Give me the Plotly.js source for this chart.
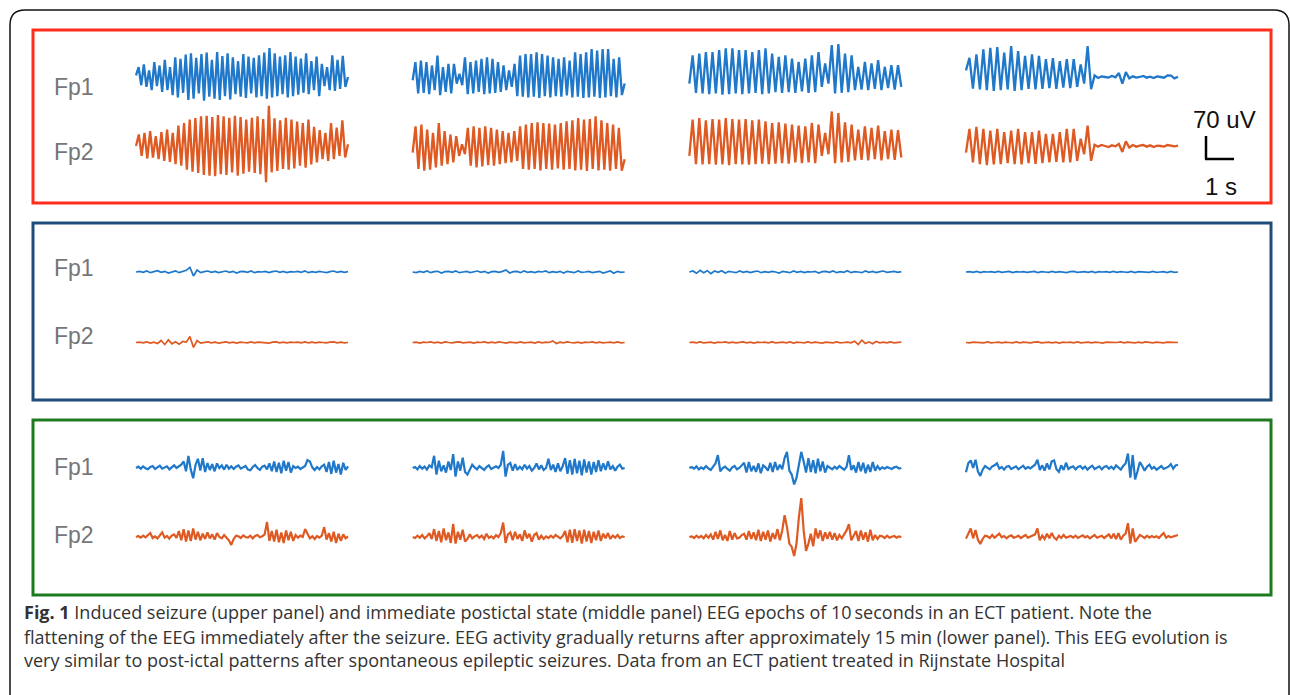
<!DOCTYPE html>
<html><head><meta charset="utf-8">
<script src="https://cdn.plot.ly/plotly-3.0.1.min.js"></script>
<style>html,body{margin:0;padding:0;background:#fff;overflow:hidden}#chart{width:1290px;height:695px}</style>
</head><body><div id="chart"></div>
<script>
// ---------------- DATA (uV) ----------------
const channels = ['Fp1', 'Fp2'];
const epochLengthS = 10;

// Upper panel: induced seizure
const seizureFp1E1 = [5,30,-25,38,-30,20,-40,45,-28,35,-45,52,-40,30,-55,60,-62,55,-48,68,-70,72,-66,58,-50,70,-72,74,-60,52,-66,76,-70,64,-58,72,-68,60,-52,48,-60,70,-64,62,-50,58,-62,66,-58,74,-66,88,-62,72,-58,62,-52,66,-62,76,-58,62,-54,56,-48,72,-52,48,-40,62,-58,40,-28,30,-40,66,-42,52,-36,64,-30,0];
const seizureFp1E2 = [-10,45,-50,50,-48,45,-52,35,-40,65,-55,30,-45,40,-50,40,-20,10,-25,60,-52,45,-50,50,-45,55,-52,60,-50,55,-48,45,-45,35,-40,20,-30,40,-58,65,-60,70,-62,70,-60,75,-64,70,-58,65,-62,60,-58,55,-60,60,-56,50,-62,75,-60,70,-64,75,-62,85,-60,80,-64,85,-62,85,-58,55,-62,60,-55,-20];
const seizureFp1E3 = [-20,66,-48,71,-50,76,-52,76,-50,82,-54,87,-52,87,-50,82,-52,82,-50,76,-48,82,-52,87,-50,71,-46,61,-48,66,-46,56,-48,46,-44,56,-48,66,-46,76,-30,41,-20,97,-50,100,-48,71,-46,66,-40,31,-38,46,-40,41,-36,51,-40,31,-34,36,-38,36,-30];
const seizureFp1E4 = [20,58,-35,69,-38,84,-40,89,-42,91,-40,74,-38,94,-42,79,-40,64,-36,69,-38,64,-36,54,-34,57,-36,48,-32,54,-34,54,-30,38,-20,94,-37,5,-3,2,0,-2,3,-1,12,-20,15,-4,2,-2,0,3,-2,1,-3,2,0,-2,5,4,-4,1];
const seizureFp2E1 = [0,35,-30,40,-38,45,-35,30,-40,42,-45,50,-48,40,-55,62,-60,70,-72,80,-78,85,-82,90,-88,92,-90,88,-92,94,-86,90,-88,86,-80,92,-90,88,-84,80,-78,86,-82,90,-86,82,-110,122,-80,84,-76,78,-70,86,-72,80,-68,74,-60,70,-66,80,-56,58,-50,48,-40,40,-45,70,-40,56,-30,78,-35,5];
const seizureFp2E2 = [-20,60,-70,65,-75,50,-72,40,-65,70,-60,45,-55,35,-50,30,-30,5,-25,55,-60,60,-65,55,-62,60,-58,55,-60,50,-55,45,-52,40,-50,45,-45,60,-70,65,-72,70,-70,72,-74,70,-70,68,-72,65,-68,70,-72,75,-70,78,-74,85,-72,80,-76,82,-70,90,-74,78,-72,70,-75,65,-70,55,-75,-40];
const seizureFp2E3 = [-30,80,-55,85,-56,78,-55,82,-57,80,-56,85,-58,82,-55,80,-56,82,-57,78,-55,80,-54,75,-55,70,-54,72,-52,68,-54,65,-50,62,-52,60,-50,70,-52,65,-30,40,-25,105,-52,100,-50,72,-48,65,-44,50,-42,60,-44,55,-40,62,-44,45,-40,50,-42,48,-35];
const seizureFp2E4 = [-20,52,-50,58,-55,52,-58,47,-56,52,-55,42,-52,47,-55,52,-56,42,-52,42,-54,47,-52,37,-50,37,-48,42,-50,52,-50,52,-45,22,-25,62,-45,4,-2,3,0,-3,2,-1,6,-18,14,-5,3,-2,1,3,-2,2,-3,1,0,-2,3,2,-1,1];

// Middle panel: immediate postictal state
const postictalFp1E1 = [0,2,-1,3,-2,1,4,-1,2,-3,1,3,-2,2,5,14,-12,6,-2,1,3,-1,2,-2,0,3,-1,2,-3,1,2,-1,3,-2,1,0,2,-2,1,3,-1,2,-2,1,0,2,-1,3,-2,1,-1,2,0,-2,1,3,-1,2,-1,1];
const postictalFp1E2 = [0,-2,2,-1,3,-2,1,2,-3,1,2,-1,3,-2,0,2,-2,1,3,-1,2,-3,1,2,-1,2,6,-3,1,2,-2,3,-1,1,-2,2,0,3,-2,1,-1,2,-3,2,1,-2,3,-1,0,2,-2,1,2,-3,1,3,-4,2,-1,0];
const postictalFp1E3 = [0,3,-4,5,-2,4,-5,3,-1,4,-3,2,0,-2,3,-1,2,-2,1,3,-2,1,-1,2,0,-3,2,1,-2,3,-1,2,-2,1,0,2,-3,1,2,-1,3,-2,1,-1,4,-2,1,0,-2,3,-1,2,-2,1,3,-1,0,2,-1,1];
const postictalFp1E4 = [0,1,-1,2,-2,1,0,1,-1,2,-1,0,2,-2,1,0,1,-1,1,2,-2,1,0,-1,2,-1,1,0,-2,1,2,-1,0,1,-1,2,-2,1,0,1,-1,2,-1,1,0,-1,2,-2,1,0,1,-1,2,-1,0,1,-2,2,-1,0];
const postictalFp2E1 = [0,1,-1,2,-2,1,-3,6,-6,8,-4,2,-5,3,1,18,-15,6,-2,1,2,-1,1,-2,0,2,-1,1,-2,1,0,-1,2,-1,1,0,1,-2,1,2,-1,1,-1,1,0,1,-1,2,-1,1,-1,1,0,-1,1,2,-1,1,-1,0];
const postictalFp2E2 = [0,1,-2,1,0,2,-1,1,-2,2,0,-1,1,2,-1,0,1,-2,1,0,2,-1,1,-1,2,0,-2,1,1,-1,2,-1,0,1,-2,2,-1,1,0,5,-3,1,-1,2,0,-1,1,-2,1,0,2,-1,1,-1,0,1,-1,2,-1,0];
const postictalFp2E3 = [0,1,-1,2,-1,0,1,-2,1,0,2,-1,1,-1,0,2,-1,1,-2,1,0,1,-1,2,-1,0,1,-1,2,-2,1,0,-1,2,-1,1,0,-2,1,1,-1,2,-1,0,1,-1,4,-6,7,-3,2,-4,3,-1,1,-1,2,-1,0,1];
const postictalFp2E4 = [0,-1,1,0,1,-1,2,-1,0,1,-1,1,0,-1,2,-1,1,0,-1,1,2,-1,0,1,-1,1,-2,1,0,1,-1,2,-1,0,1,-1,1,0,-2,1,1,-1,0,2,-1,1,0,-1,1,-1,2,0,-1,1,0,-1,1,0,1,0];

// Lower panel: ~15 min later
const recoveryFp1E1 = [0,4,-2,5,-1,-4,3,6,-3,2,7,-2,1,5,-4,3,8,0,6,10,20,-10,37,-5,-31,10,28,-8,30,-12,15,-6,12,-10,14,0,8,-5,10,-2,5,-3,4,8,-2,1,6,-5,-7,3,9,0,-6,4,7,-4,14,-10,20,-12,16,-16,22,-8,18,-14,6,0,4,-3,2,6,24,20,2,-6,3,-4,5,10,-12,18,-18,22,-14,12,-20,16,-6,5];
const recoveryFp1E2 = [0,3,-4,6,-2,4,-5,8,2,37,-20,22,-10,8,-14,20,-6,42,-26,20,-8,31,-12,-20,-5,10,2,-4,6,0,-6,3,8,-3,2,5,0,10,52,-26,10,15,-8,12,-6,4,-4,10,-2,6,-8,0,14,-4,8,-6,0,28,-6,10,-12,14,-10,6,30,-18,24,-20,28,-16,22,-22,26,-14,20,-20,18,-12,24,-10,14,-6,20,-4,6,-8,4,10,-2,0];
const recoveryFp1E3 = [0,3,-2,5,-4,2,-3,6,-1,-6,4,14,39,-10,0,4,-3,-8,2,6,-4,0,8,16,-14,18,-10,6,-12,14,-16,8,2,-8,16,-12,18,-6,10,-4,30,49,-8,-20,-50,-30,10,49,20,-14,30,-12,24,-16,28,-10,20,-14,6,2,-4,4,-2,6,0,-5,3,39,-6,8,-14,18,-10,16,-16,10,-12,18,-8,6,-4,2,-2,3,0,-3,2,4,-2,0];
const recoveryFp1E4 = [-13,15,23,0,25,-10,-24,-5,6,2,-4,5,8,14,-2,3,-5,4,6,-3,1,5,-4,2,7,-2,3,-1,4,10,25,-6,8,-8,14,-4,20,23,-4,-12,8,-6,16,-3,2,5,-4,3,6,-2,4,-5,2,7,-3,1,5,-4,3,6,-2,4,-3,8,2,-5,6,14,44,-29,39,-35,-10,18,6,-8,4,10,-2,3,-5,2,6,-3,1,4,12,-2,8,10];
const recoveryFp2E1 = [0,3,-2,4,-1,6,12,-3,2,-4,5,14,-2,3,-5,4,8,-3,18,-10,24,-14,20,-12,26,-8,16,-10,10,-6,14,-4,8,-8,12,0,-4,6,-2,-10,-24,-6,4,2,-3,5,0,-2,4,-4,3,6,-1,2,8,46,-12,18,-14,22,-16,14,-18,20,-10,16,-12,6,-2,4,0,24,10,-4,2,-6,3,-2,4,30,-8,12,-14,16,-18,10,-12,8,-4,2];
const recoveryFp2E2 = [0,-3,4,-2,6,-4,2,12,-6,24,-12,18,-16,26,-10,14,-18,40,-20,16,-8,22,-14,-6,8,-4,2,6,-2,4,-6,10,-3,2,-4,6,0,12,44,-18,8,14,-10,16,-6,8,-12,20,-4,10,-14,6,12,-8,4,-6,2,-3,4,-2,6,0,-4,3,18,-16,22,-18,24,-12,20,-20,22,-14,18,-18,16,-10,20,-12,10,-4,12,-6,4,-2,6,-3,2,0];
const recoveryFp2E3 = [0,2,-3,4,-2,3,-4,6,-2,8,-8,16,-6,20,-10,6,-12,18,-8,12,-4,-2,6,10,-8,18,-6,14,-10,22,-12,16,-8,20,-14,12,-6,24,-10,20,66,30,-20,-30,-58,-20,60,118,20,-42,-20,10,-28,26,-4,20,-12,14,-6,16,-8,12,-10,6,-4,8,20,39,-10,4,18,-12,20,-8,14,-14,22,-10,6,-6,4,2,-3,4,-2,1,3,-2,2,0];
const recoveryFp2E4 = [-5,10,26,-4,21,-8,-21,-6,4,2,-3,6,-2,4,10,-1,3,-4,2,5,-2,0,4,-3,2,6,-2,1,3,8,26,-10,4,-6,10,-4,12,-2,-8,4,-3,6,-2,0,3,-2,4,-3,2,5,-1,3,-4,2,6,-2,0,4,-3,2,8,-4,10,-6,12,-8,4,10,42,-20,26,-15,-4,6,2,-3,4,-2,3,-1,2,-3,5,12,-2,3,-1,2,4,6];

const scaleAmplitudeLabel = '70 uV';
const scaleTimeLabel = '1 s';
const captionLines = [
  '<b>Fig. 1</b> Induced seizure (upper panel) and immediate postictal state (middle panel) EEG epochs of 10\u2009seconds in an ECT patient. Note the',
  'flattening of the EEG immediately after the seizure. EEG activity gradually returns after approximately 15 min (lower panel). This EEG evolution is',
  'very similar to post-ictal patterns after spontaneous epileptic seizures. Data from an ECT patient treated in Rijnstate Hospital'
];

// ---------------- LAYOUT / STYLE ----------------
const W = 1290, H = 695;
const PX_PER_S = 21.2;          // horizontal scale
const UV_PER_PX = 3.04;         // vertical scale
const FIRST_EPOCH_PX = 136;
const EPOCH_STEP_S = 13.05;
const px2x = p => p / W;
const px2y = p => 1 - p / H;

const traceColors = ['#1f78c9', '#de5a22'];
const panels = [
  {color:'#ff2e1c', top:30, bottom:203, base:[77,146], labelY:[87,152], lw:2.3,
   data:[[seizureFp1E1,seizureFp1E2,seizureFp1E3,seizureFp1E4],[seizureFp2E1,seizureFp2E2,seizureFp2E3,seizureFp2E4]]},
  {color:'#1f4d7a', top:223, bottom:400, base:[272,342.5], labelY:[268,336], lw:1.7,
   data:[[postictalFp1E1,postictalFp1E2,postictalFp1E3,postictalFp1E4],[postictalFp2E1,postictalFp2E2,postictalFp2E3,postictalFp2E4]]},
  {color:'#1e7a1e', top:420, bottom:595, base:[468,537], labelY:[467,535], lw:2.2,
   data:[[recoveryFp1E1,recoveryFp1E2,recoveryFp1E3,recoveryFp1E4],[recoveryFp2E1,recoveryFp2E2,recoveryFp2E3,recoveryFp2E4]]}
];

const traces = [];
const layout = {
  width: W, height: H, margin:{l:0,r:0,t:0,b:0},
  paper_bgcolor:'#ffffff', plot_bgcolor:'rgba(0,0,0,0)',
  showlegend:false, hovermode:false,
  xaxis:{domain:[0,1], range:[(0-FIRST_EPOCH_PX)/PX_PER_S,(W-FIRST_EPOCH_PX)/PX_PER_S], visible:false, fixedrange:true},
  shapes:[], annotations:[]
};

panels.forEach((p, k) => {
  const axName = k === 0 ? 'yaxis' : 'yaxis' + (k + 1);
  const axRef = k === 0 ? 'y' : 'y' + (k + 1);
  layout[axName] = {
    domain:[px2y(p.bottom), px2y(p.top)],
    range:[-(p.bottom - p.base[0]) * UV_PER_PX, (p.base[0] - p.top) * UV_PER_PX],
    visible:false, fixedrange:true, anchor:'x'
  };
  channels.forEach((ch, c) => {
    const offset = -(p.base[c] - p.base[0]) * UV_PER_PX;
    p.data[c].forEach((vals, e) => {
      const start = e * EPOCH_STEP_S;
      const n = vals.length;
      traces.push({
        type:'scatter', mode:'lines', xaxis:'x', yaxis:axRef,
        x: vals.map((_, i) => start + i * epochLengthS / (n - 1)),
        y: vals.map(v => v + offset),
        line:{color:traceColors[c], width:p.lw, shape:'linear'},
        hoverinfo:'skip'
      });
    });
    layout.annotations.push({
      xref:'paper', yref:'paper', x:px2x(52), y:px2y(p.labelY[c]),
      xanchor:'left', yanchor:'middle', showarrow:false, text:ch,
      font:{family:'Liberation Sans, Arial, sans-serif', size:23, color:'#767676'}
    });
  });
  layout.shapes.push({type:'rect', xref:'paper', yref:'paper',
    x0:px2x(33), x1:px2x(1271), y0:px2y(p.bottom), y1:px2y(p.top),
    line:{color:p.color, width:3}, fillcolor:'rgba(0,0,0,0)'});
});

// outer rounded frame
const P = (x, y) => px2x(x) + ',' + px2y(y);
layout.shapes.push({type:'path', xref:'paper', yref:'paper',
  path:'M' + P(10,720) + ' L' + P(10,25) + ' Q' + P(10,10) + ' ' + P(25,10) +
       ' L' + P(1274,10) + ' Q' + P(1289,10) + ' ' + P(1289,25) + ' L' + P(1289,720),
  line:{color:'#111', width:1.5}});

// scale bar
layout.shapes.push({type:'line', xref:'paper', yref:'paper', x0:px2x(1206), x1:px2x(1206), y0:px2y(136), y1:px2y(159), line:{color:'#000', width:2.5}});
layout.shapes.push({type:'line', xref:'paper', yref:'paper', x0:px2x(1205), x1:px2x(1234), y0:px2y(159), y1:px2y(159), line:{color:'#000', width:2.5}});
layout.annotations.push({xref:'paper', yref:'paper', x:px2x(1224), y:px2y(119), xanchor:'center', yanchor:'middle', showarrow:false,
  text:scaleAmplitudeLabel, font:{family:'Liberation Sans, Arial, sans-serif', size:24, color:'#111'}});
layout.annotations.push({xref:'paper', yref:'paper', x:px2x(1221), y:px2y(187), xanchor:'center', yanchor:'middle', showarrow:false,
  text:scaleTimeLabel, font:{family:'Liberation Sans, Arial, sans-serif', size:24, color:'#111'}});

// caption
const captionY = [612, 637, 660];
captionLines.forEach((t, i) => {
  layout.annotations.push({xref:'paper', yref:'paper', x:px2x(22), y:px2y(captionY[i]), xanchor:'left', yanchor:'middle',
    showarrow:false, align:'left', text:t, font:{family:'Open Sans, Noto Sans, sans-serif', size:18, color:'#333'}});
});

Plotly.newPlot('chart', traces, layout, {staticPlot:true, displayModeBar:false});
</script></body></html>
